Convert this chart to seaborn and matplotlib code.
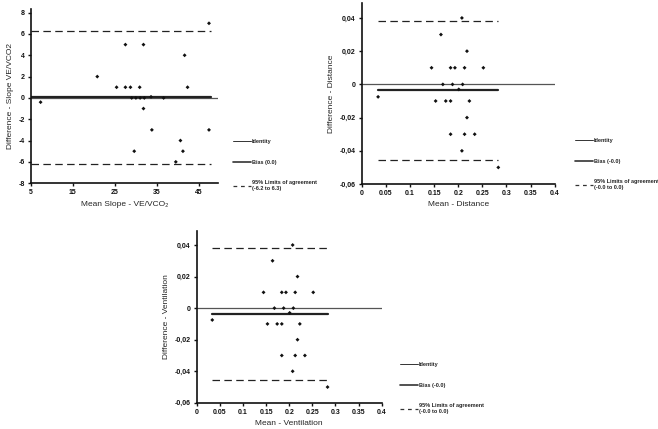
import matplotlib
matplotlib.use("Agg")
import matplotlib.pyplot as plt
from matplotlib.lines import Line2D
import pandas as pd
import seaborn as sns

# panel 1 - slope VE/VCO2
slope_mean = [7.3, 20.8, 25.4, 27.5, 27.5, 28.7, 30.9, 29.6, 31.8, 31.8, 33.8, 33.6,
              39.5, 40.6, 41.2, 41.6, 42.3, 47.4, 47.4, 29.0, 30.0, 31.0, 32.0, 36.6]
slope_diff = [-0.4, 2, 1, 5, 1, 1, 1, -5, 5, -1, -3, 0.1,
              -6, -4, -5, 4, 1, 7, -3, 0, 0, 0, 0, 0]
slope_bias = 0.05
slope_loa = (-6.2, 6.3)
slope_span = (5, 47.8)

# panels 2 and 3 - distance / ventilation (same values in the figure)
dist_mean = [0.0336, 0.1445, 0.164, 0.168, 0.153, 0.174, 0.184, 0.184, 0.184, 0.188,
             0.193, 0.201, 0.2075, 0.209, 0.2075, 0.213, 0.213, 0.218, 0.218, 0.223,
             0.234, 0.252, 0.283]
dist_diff = [-0.0075, 0.01, 0.03, 0, -0.01, -0.01, -0.01, 0.01, -0.03, 0,
             0.01, -0.003, 0.04, 0, -0.04, 0.01, -0.03, 0.02, -0.02, -0.01,
             -0.03, 0.01, -0.05]
dist_bias = -0.0036
dist_loa = (-0.0457, 0.0384)

small_xticks = [0, 0.05, 0.1, 0.15, 0.2, 0.25, 0.3, 0.35, 0.4]
small_xlabels = ["0", "0.05", "0.1", "0.15", "0.2", "0.25", "0.3", "0.35", "0.4"]
small_yticks = [-0.06, -0.04, -0.02, 0, 0.02, 0.04]
small_ylabels = ["-0,06", "-0,04", "-0,02", "0", "0,02", "0,04"]
slope_xticks = [5, 15, 25, 35, 45]
slope_yticks = [-8, -6, -4, -2, 0, 2, 4, 6, 8]

sns.set_theme(style="white")
plt.rcParams["font.family"] = ["Liberation Sans", "DejaVu Sans"]

fig = plt.figure(figsize=(6.58, 4.29), dpi=100)


def bland_altman(ax, xs, ys, bias, loa, span, xlabel, ylabel):
    df = pd.DataFrame({"mean": xs, "diff": ys})
    ax.axhline(0, color="#555555", lw=0.9, zorder=1)
    ax.plot(span, [bias, bias], color="#222222", lw=1.6, zorder=2)
    for v in loa:
        ax.plot(span, [v, v], color="#222222", lw=0.9, dashes=(6, 3.5), zorder=2)
    sns.scatterplot(data=df, x="mean", y="diff", ax=ax, marker="D", s=4,
                    color="#111111", edgecolor="none", zorder=3)
    ax.set_xlabel(xlabel, fontsize=6, labelpad=3)
    ax.set_ylabel(ylabel, fontsize=6, labelpad=3)
    for s in ["top", "right"]:
        ax.spines[s].set_visible(False)
    for s in ["left", "bottom"]:
        ax.spines[s].set_color("#111111")
        ax.spines[s].set_linewidth(1.2)
    ax.tick_params(direction="out", length=2.5, width=1, labelsize=5, pad=2,
                   colors="#111111", left=True, bottom=True)


def add_legend(x, y, bias_txt, loa_txt):
    handles = [Line2D([], [], color="#333333", lw=0.7),
               Line2D([], [], color="#333333", lw=1.2),
               Line2D([], [], color="#333333", lw=0.9, dashes=(3, 3))]
    labels = ["Identity", "Bias (%s)" % bias_txt,
              "95%% Limits of agreement\n(%s)" % loa_txt]
    fig.legend(handles, labels, loc="upper left", bbox_to_anchor=(x, y),
               frameon=False, handlelength=3.2, handletextpad=0.2,
               labelspacing=2.8, borderpad=0, borderaxespad=0,
               prop={"size": 4, "weight": "bold"})


# panel 1
ax1 = fig.add_axes([0.047, 0.573, 0.284, 0.405])
bland_altman(ax1, slope_mean, slope_diff, slope_bias, slope_loa, slope_span,
             "Mean Slope - VE/VCO\u2082", "Difference - Slope VE/VCO2")
ax1.set_xlim(5, 49.5)
ax1.set_ylim(-8, 8.3)
ax1.set_xticks(slope_xticks)
ax1.set_yticks(slope_yticks)
ax1.set_xticklabels([str(t) for t in slope_xticks], fontweight="bold")
ax1.set_yticklabels([str(t) for t in slope_yticks], fontweight="bold")
add_legend(233 / 658, 1 - 139 / 429, "0.0", "-6.2 to 6.3")

# panel 2
dist_span = (min(dist_mean), max(dist_mean))
ax2 = fig.add_axes([0.550, 0.571, 0.293, 0.422])
bland_altman(ax2, dist_mean, dist_diff, dist_bias, dist_loa, dist_span,
             "Mean - Distance", "Difference - Distance")
ax2.set_xlim(0, 0.4)
ax2.set_ylim(-0.06, 0.049)
ax2.set_xticks(small_xticks)
ax2.set_yticks(small_yticks)
ax2.set_xticklabels(small_xlabels, fontweight="bold")
ax2.set_yticklabels(small_ylabels, fontweight="bold")
add_legend(575 / 658, 1 - 138 / 429, "-0.0", "-0.0 to 0.0")

# panel 3
ax3 = fig.add_axes([0.299, 0.061, 0.281, 0.401])
bland_altman(ax3, dist_mean, dist_diff, dist_bias, dist_loa, dist_span,
             "Mean - Ventilation", "Difference - Ventilation")
ax3.set_xlim(0, 0.4)
ax3.set_ylim(-0.06, 0.049)
ax3.set_xticks(small_xticks)
ax3.set_yticks(small_yticks)
ax3.set_xticklabels(small_xlabels, fontweight="bold")
ax3.set_yticklabels(small_ylabels, fontweight="bold")
add_legend(400 / 658, 1 - 362 / 429, "-0.0", "-0.0 to 0.0")

fig.savefig("out.png", dpi=100)
